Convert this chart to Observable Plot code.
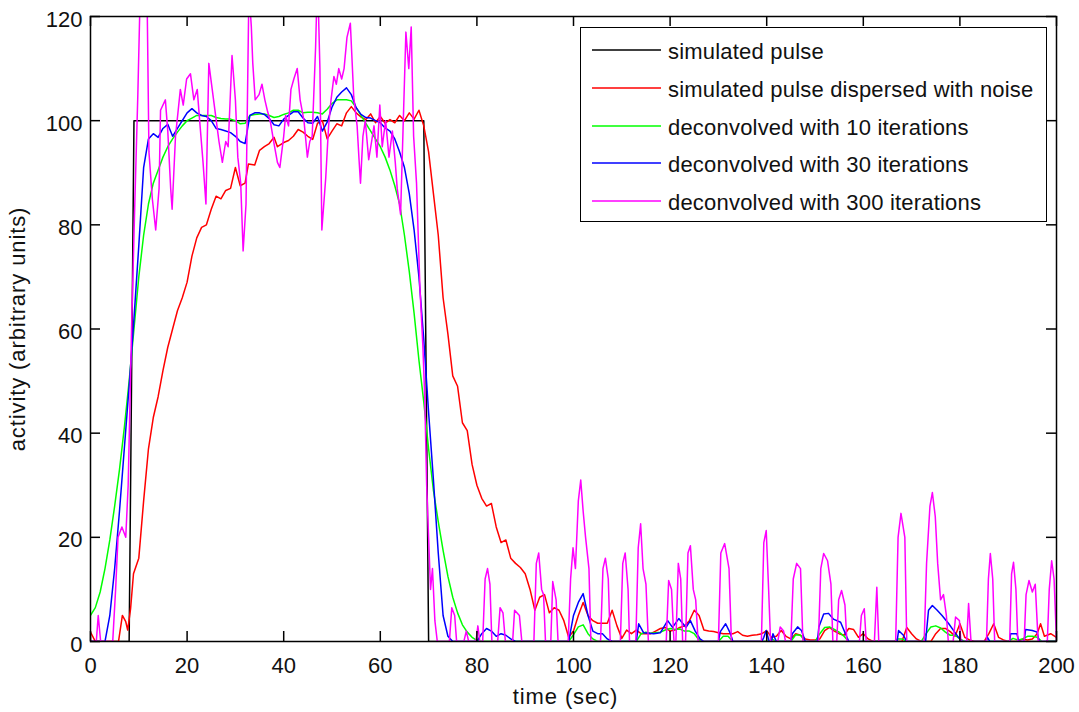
<!DOCTYPE html>
<html><head><meta charset="utf-8">
<script src="https://cdn.jsdelivr.net/npm/d3@7"></script>
<script src="https://cdn.jsdelivr.net/npm/@observablehq/plot@0.6"></script>
<style>
body{margin:0;background:#fff;}
#wrap{position:relative;width:1079px;height:712px;font-family:"Liberation Sans",Arial,sans-serif;}
#legend{position:absolute;left:580px;top:27px;width:467px;height:195px;border:1.5px solid #000;background:#fff;box-sizing:border-box;}
.row{position:absolute;left:0;height:24px;display:flex;align-items:center;}
.sw{margin-left:11px;display:block;}
.lab{margin-left:7px;font-size:22px;letter-spacing:0.2px;color:#111;white-space:nowrap;position:relative;top:2px;}
</style></head>
<body><div id="wrap"></div>
<script>
const xTicks = [0,20,40,60,80,100,120,140,160,180,200];
const yTicks = [0,20,40,60,80,100,120];
const labels = ["simulated pulse","simulated pulse dispersed with noise","deconvolved with 10 iterations","deconvolved with 30 iterations","deconvolved with 300 iterations"];
const colors = ["#000000","#ff0000","#00ff00","#0000ff","#ff00ff"];

const pulse = [[0,0],[8,0],[9,100],[69,100],[70,0],[200,0]];

const red = [[0,1.8],[1,0],[5.8,0],[6.6,5],[7.3,3.8],[7.7,2.2],[8.3,6.3],[8.9,13],[10,16],[11,27],[12,37],[13,43],[14,47],[15,52],[16,56.5],[17,60],[18,63.5],[19,66],[20,69],[21,74],[22,77.5],[23,79.5],[24,80],[25,83],[26,85.5],[27,85],[28,86.6],[29,87],[30,91],[31,87.5],[32,88],[32.7,91.7],[34,91.5],[35,94.3],[36,95],[37,95.6],[38,96.8],[38.7,95],[40,95.8],[41,96.2],[42,97],[43,98.3],[44,97.8],[45,97],[46,96.4],[47,99.5],[48,100],[49,96.5],[50,98],[51,99.4],[52,99],[53,101.5],[54,102.7],[55,101.5],[56,100.7],[57,100.2],[58,101.3],[59,99.6],[60,100.8],[61,99.5],[62,100.2],[63,99.6],[64,101],[65,100],[66,101.5],[67,100.3],[68,102],[69,99],[70,94],[71,86],[72,78],[73,66],[74,59],[75,51],[76,49],[77,42],[78,40.5],[79,34],[80,30],[81,27.5],[82,26],[83,26.5],[84,22],[85,19],[86,19.5],[87,16],[88,15],[89,14.2],[90,13],[91,10],[92,6],[93,8.5],[94,9],[95,5.5],[96,6.5],[97,6],[98,4],[99,0.8],[100,2],[101,5],[102,7.5],[103,5],[104,4],[105,3.5],[106,3.5],[107,3.5],[108,6],[109,3],[110,0.6],[111,2.2],[112,1.5],[113,2.2],[114,1.5],[115,1.5],[116,1.5],[117,2],[118,2.5],[119,2.7],[120,2],[121,2.2],[122,2.7],[123,3],[124,4],[125,6],[126,5],[127,2.2],[128,2],[129,1.9],[130,1.7],[131,1.5],[132,1.5],[133,1.5],[134,1.9],[135,1.2],[136,1],[137,1.2],[138,1.3],[139,1.5],[140,2.1],[141,0.8],[142,1],[143,2.1],[144,1],[145,0.5],[146,1.5],[147,1.2],[148,0.5],[149,0.3],[150,0.3],[151,0.5],[152,2.1],[153,2.7],[154,2],[155,1.5],[156,1.2],[157,2.5],[158,2.3],[159,0.8],[160,1.5],[161,0.5],[162,0],[168,0],[169,2.7],[170,1.5],[171,0.5],[172,0],[174,0],[175,1.5],[176,2.5],[177,2.5],[178,1.9],[179,1],[180,3.4],[181,0.8],[182,0.3],[183,0],[185,0],[186,1.5],[187,3.4],[188,0.8],[189,0.3],[190,0],[192,0],[193,0.5],[194,0.3],[195,0.5],[196,1.5],[196.7,3.4],[197.5,1],[198.8,1.5],[200,0.8]];

const green = [[0,5],[1,6.5],[2,9.5],[3,14],[4,19.5],[5,26],[6,33],[7,41],[8,50],[9,60],[10,70],[11,78],[12,84],[13,88],[14,90.5],[15,93],[16,95],[17,96.5],[18,97.8],[19,99],[20,100],[21,100.5],[22,101],[23,101],[24,101],[25,101],[26,100.6],[27,100.4],[28,100.3],[29,100.3],[30,100],[31,99.4],[32,99.5],[33,101],[34,101.2],[35,101.3],[36,101.3],[37,101],[38,100.6],[39,100.8],[40,101.2],[41,101.5],[42,102],[43,102],[44,101.5],[45,101.6],[46,101.6],[47,101.5],[48,101.3],[49,102.2],[50,103.3],[51,104],[52,104],[53,104],[54,103.8],[55,102.5],[56,101],[57,99.5],[58,98],[59,96.5],[60,95],[61,93],[62,90.5],[63,87.5],[64,84],[65,78],[66,71],[67,63],[68,54],[69,46],[70,37],[71,29],[72,23],[73,17.5],[74,12.5],[75,8.5],[76,5.5],[77,3.2],[78,1.8],[79,0.8],[80,0.2],[81,0],[99,0],[100,1.3],[101,2.8],[102,3.2],[103,1.5],[104,0.5],[105,0],[113,0],[114,1.5],[115,1.8],[116,1.6],[117,1.7],[118,1.8],[119,2.2],[120,2.5],[121,2.3],[122,2.4],[123,2],[124,2],[125,1.5],[126,0.3],[127,0],[130,0],[131,1],[132,1],[133,0],[140.5,0],[141,0.5],[142,0],[145,0],[146,1.3],[147,1.2],[148,0],[150,0],[151,1.5],[152,2.7],[153,2.8],[154,2.3],[155,1.8],[156,1],[157,0],[166.5,0],[167,0.5],[168,0.5],[169,0],[172,0],[173,1.5],[174,2.8],[175,3],[176,2.6],[177,1.8],[178,1.2],[179,1.2],[180,0.5],[181,0],[190,0],[191,0.6],[192,0.3],[193,0.5],[194,1],[195,1],[196,0.8],[197,0],[200,0]];

const blue = [[0,0],[3,0],[4,5],[5,14],[6,25],[7,37],[8,49],[9,62],[10,76],[11,91],[12,96.5],[13,97.5],[14,96.8],[15,98.5],[16,99.3],[17,97],[18,98.5],[19,100],[20,101.5],[21,102.3],[22,101.5],[23,101],[24,100.8],[25,100],[26,98.5],[27,98.3],[28,98],[29,97.7],[30,97],[31,96],[32,95.6],[33,101],[34,101.5],[35,101.5],[36,101.2],[37,100.4],[38,99.2],[39,99],[40,100.3],[41,101],[42,101.7],[43,101.7],[44,100.5],[45,99.6],[46,99.5],[47,100.8],[48,98],[49,99.7],[50,102.6],[51,104.5],[52,105.5],[53,106.3],[54,105],[55,102.5],[56,101.2],[57,100.6],[58,100.5],[59,100],[60,99.6],[61,98.6],[62,98],[63,96.5],[64,94],[65,91],[66,86],[67,79],[68,70],[69,58],[70,44],[71,31],[72,17],[73,5],[74,1],[75,0],[80,0],[81,1.5],[82,2.5],[83,2],[84,1],[85,1.5],[86,1.2],[87,0.5],[88,0],[99,0],[100,5],[101,7.5],[102,9.2],[103,5],[104,2],[105,1.5],[106,1.5],[107,0.5],[108,0],[113,0],[113.5,3.4],[114.5,1.7],[116.6,1.5],[118,1.7],[119.5,4],[120.5,2.7],[121.8,4.4],[123.3,2.7],[124.2,4],[125.2,2],[126.2,0.5],[127,0],[130,0],[130.4,1.9],[131.5,3.4],[132.5,1.5],[133,0],[139,0],[139.4,0.8],[139.9,2.1],[140.5,0],[141,0],[141.3,1.5],[142,0],[145,0],[145.3,1.5],[146.4,2.8],[147.2,2.1],[148,0],[150.5,0],[150.8,2.8],[151.8,5.3],[152.8,5.4],[153.8,4.3],[155.3,3.7],[156.3,1.5],[157,0],[167,0],[167.3,2.1],[168.3,1.2],[169,0],[172.9,0],[173.5,6],[174.3,6.9],[175.3,6],[176.3,5],[177.7,3.4],[178.7,2.1],[179.7,0.8],[180.5,0],[185.4,0],[185.7,0.8],[186.2,0],[190.3,0],[190.5,1.5],[191.8,1.5],[192.2,0],[193.3,0],[193.6,2.3],[195,2.1],[196,1.8],[196.4,0],[200,0]];

const magenta = [[0,0],[1.2,0],[1.6,5],[2.1,0],[4.6,0],[5.2,10],[5.7,20],[6.5,22],[7.3,20],[7.8,30],[8.5,60],[9.2,85],[9.8,105],[10.3,125],[11,132],[11.7,125],[12.1,94],[12.8,85],[13.5,79],[14.2,87],[14.5,102],[15.5,104],[16,98],[16.6,87],[16.9,83],[17.6,97],[18.6,106],[19.2,103],[19.9,108],[20.7,109],[21.4,104],[22.1,106],[22.6,100],[23.3,92],[23.9,84],[24.5,111],[25.2,106],[25.9,101],[26.6,96],[27.3,92],[28,96],[28.5,95],[29.3,112.5],[30,104],[30.5,93],[31.1,88],[31.6,75],[32.2,84],[32.8,125],[33.3,118],[33.6,111],[34.1,104],[34.9,105],[35.5,107],[36.1,104],[36.6,102],[37.3,99.5],[38,95.6],[38.7,92],[39.2,91],[40,97],[40.4,101],[41,99],[41.5,106],[42.1,108],[42.8,110],[43.4,104],[44.2,100],[44.9,93],[45.4,96],[45.9,97],[46.6,114],[47,128],[47.5,110],[47.9,79],[48.7,89],[49.3,99],[49.8,104],[50.4,108.5],[50.9,107],[51.4,110],[52,108],[52.5,110],[53.1,116],[53.8,118.7],[54.5,104.6],[55.2,99],[55.6,92.5],[55.9,88],[56.4,97],[56.9,100],[57.6,92.5],[58.2,96],[58.7,99],[59.3,93],[59.9,103],[60.4,95],[61.1,100],[61.8,93],[62.5,98],[63.1,92],[63.5,87],[64.2,82],[64.7,98],[65.3,117],[65.9,110],[66.4,118],[66.9,97],[67.5,88],[68.2,68],[68.8,57],[69.2,47],[69.6,30],[70,20],[70.4,10],[70.8,14],[71.3,4],[71.8,0],[74.3,0],[74.8,6.5],[75.4,5],[75.8,0],[77.3,0],[77.8,2],[78.3,0],[79.8,0],[80.2,3],[80.6,0],[81.2,0],[81.7,12],[82.2,14],[82.7,11],[83.1,0],[84.3,0],[84.8,6.5],[85.4,5.5],[85.9,0],[87.4,0],[87.8,6],[88.8,5],[89.3,0],[91.8,0],[92.3,15],[92.8,17],[93.4,10],[93.8,9],[94.2,0],[95.3,0],[95.7,11.5],[96.4,8],[96.8,0],[98.9,0],[99.4,12],[99.9,18],[100.4,14],[101,27],[101.5,31],[102,25],[102.5,20],[103.2,14],[103.6,0],[105.6,0],[106.1,14],[106.6,16],[107.2,12],[107.6,0],[109.7,0],[110.2,15],[110.7,17],[111.3,10],[111.6,0],[112.9,0],[113.4,18],[113.9,22.6],[114.4,14],[115,11],[115.5,0],[119.2,0],[119.7,11.7],[120.3,10],[120.8,0],[121.2,0],[121.7,15],[122.2,12],[122.6,0],[123.2,0],[123.7,17],[124.2,18.4],[124.8,10],[125.3,8],[125.8,0],[130,0],[130.5,17],[131.3,18.8],[132.2,14],[132.7,0],[138.9,0],[139.4,19],[139.9,21.3],[140.4,10],[140.8,0],[142.3,0],[142.8,2.8],[143.5,2],[143.9,0],[145,0],[145.5,12],[146.2,15],[147,14],[147.5,0],[150.7,0],[151.2,14],[151.8,16.9],[152.6,15.5],[153.3,11],[153.7,0],[154.5,0],[154.9,8],[155.5,9.8],[156.2,7],[156.6,0],[159.2,0],[159.6,5],[160.2,6.3],[160.6,0],[162.3,0],[162.8,10.4],[163.2,0],[166.7,0],[167.2,20],[167.8,24.6],[168.6,20],[169,0],[172.6,0],[173.1,15],[173.8,26],[174.3,28.6],[174.9,24],[175.4,15],[176,8],[176.6,9],[177.2,5],[177.6,0],[178.6,0],[179.1,4.7],[179.9,4],[180.2,0],[181.4,0],[181.8,7.3],[182.3,0],[185.5,0],[185.9,12],[186.3,16.9],[186.8,12],[187.2,0],[190.3,0],[190.7,13],[191.1,15.2],[191.6,10],[192,0],[193.3,0],[193.7,9],[194.3,11.7],[195,9.5],[195.6,11],[196.2,0],[198.1,0],[198.5,10],[199,15.5],[199.5,12],[200,0]];

const series = [pulse, red, green, blue, magenta];

const W = 1079, H = 712;
const mL = 90, mR = 23, mT = 16, mB = 71;
const plotW = W - mL - mR, plotH = H - mT - mB;
const tickLen = 10;

const lineMarks = series.map((s, i) => Plot.line(s, {x: d => d[0], y: d => d[1], stroke: colors[i], strokeWidth: 1.5, clip: true}));

const chart = Plot.plot({
  width: W, height: H,
  marginLeft: mL, marginRight: mR, marginTop: mT, marginBottom: mB,
  style: {fontFamily: '"Liberation Sans", Arial, sans-serif', background: "#fff"},
  x: {domain: [0, 200]},
  y: {domain: [0, 120]},
  marks: [
    ...lineMarks,
    Plot.frame({stroke: "#000", strokeWidth: 1.5}),
    Plot.tickX(xTicks, {x: d => d, insetTop: plotH - tickLen, stroke: "#000", strokeWidth: 1.5}),
    Plot.tickX(xTicks, {x: d => d, insetBottom: plotH - tickLen, stroke: "#000", strokeWidth: 1.5}),
    Plot.tickY(yTicks, {y: d => d, insetRight: plotW - tickLen, stroke: "#000", strokeWidth: 1.5}),
    Plot.tickY(yTicks, {y: d => d, insetLeft: plotW - tickLen, stroke: "#000", strokeWidth: 1.5}),
    Plot.axisX({ticks: xTicks, tickSize: 0, tickPadding: 16, fontSize: 22, fill: "#111", label: "time (sec)", labelAnchor: "center", labelArrow: "none", labelOffset: 62}),
    Plot.axisY({ticks: yTicks, tickSize: 0, tickPadding: 8, fontSize: 22, fill: "#111", dy: 3, label: "activity (arbitrary units)", labelAnchor: "center", labelArrow: "none", labelOffset: 81})
  ]
});

const wrap = document.getElementById("wrap");
wrap.appendChild(chart);
chart.querySelectorAll("g[aria-label$='axis label'] text").forEach(t => {
  t.setAttribute("font-size", 22);
  t.style.letterSpacing = "0.9px";
});
chart.querySelectorAll("g[aria-label='x-axis label'] text").forEach(t => {
  t.setAttribute("dx", -8);
});

const legend = document.createElement("div");
legend.id = "legend";
labels.forEach((lab, i) => {
  const row = document.createElement("div");
  row.className = "row";
  row.style.top = Math.round(10 + i * 37.8) + "px";
  const ns = "http://www.w3.org/2000/svg";
  const sw = document.createElementNS(ns, "svg");
  sw.setAttribute("class", "sw");
  sw.setAttribute("width", 69);
  sw.setAttribute("height", 4);
  const ln = document.createElementNS(ns, "line");
  ln.setAttribute("x1", 0); ln.setAttribute("x2", 69);
  ln.setAttribute("y1", 2); ln.setAttribute("y2", 2);
  ln.setAttribute("stroke", colors[i]);
  ln.setAttribute("stroke-width", 1.6);
  sw.appendChild(ln);
  const tx = document.createElement("span");
  tx.className = "lab";
  tx.textContent = lab;
  row.appendChild(sw); row.appendChild(tx);
  legend.appendChild(row);
});
wrap.appendChild(legend);
</script>
</body></html>
